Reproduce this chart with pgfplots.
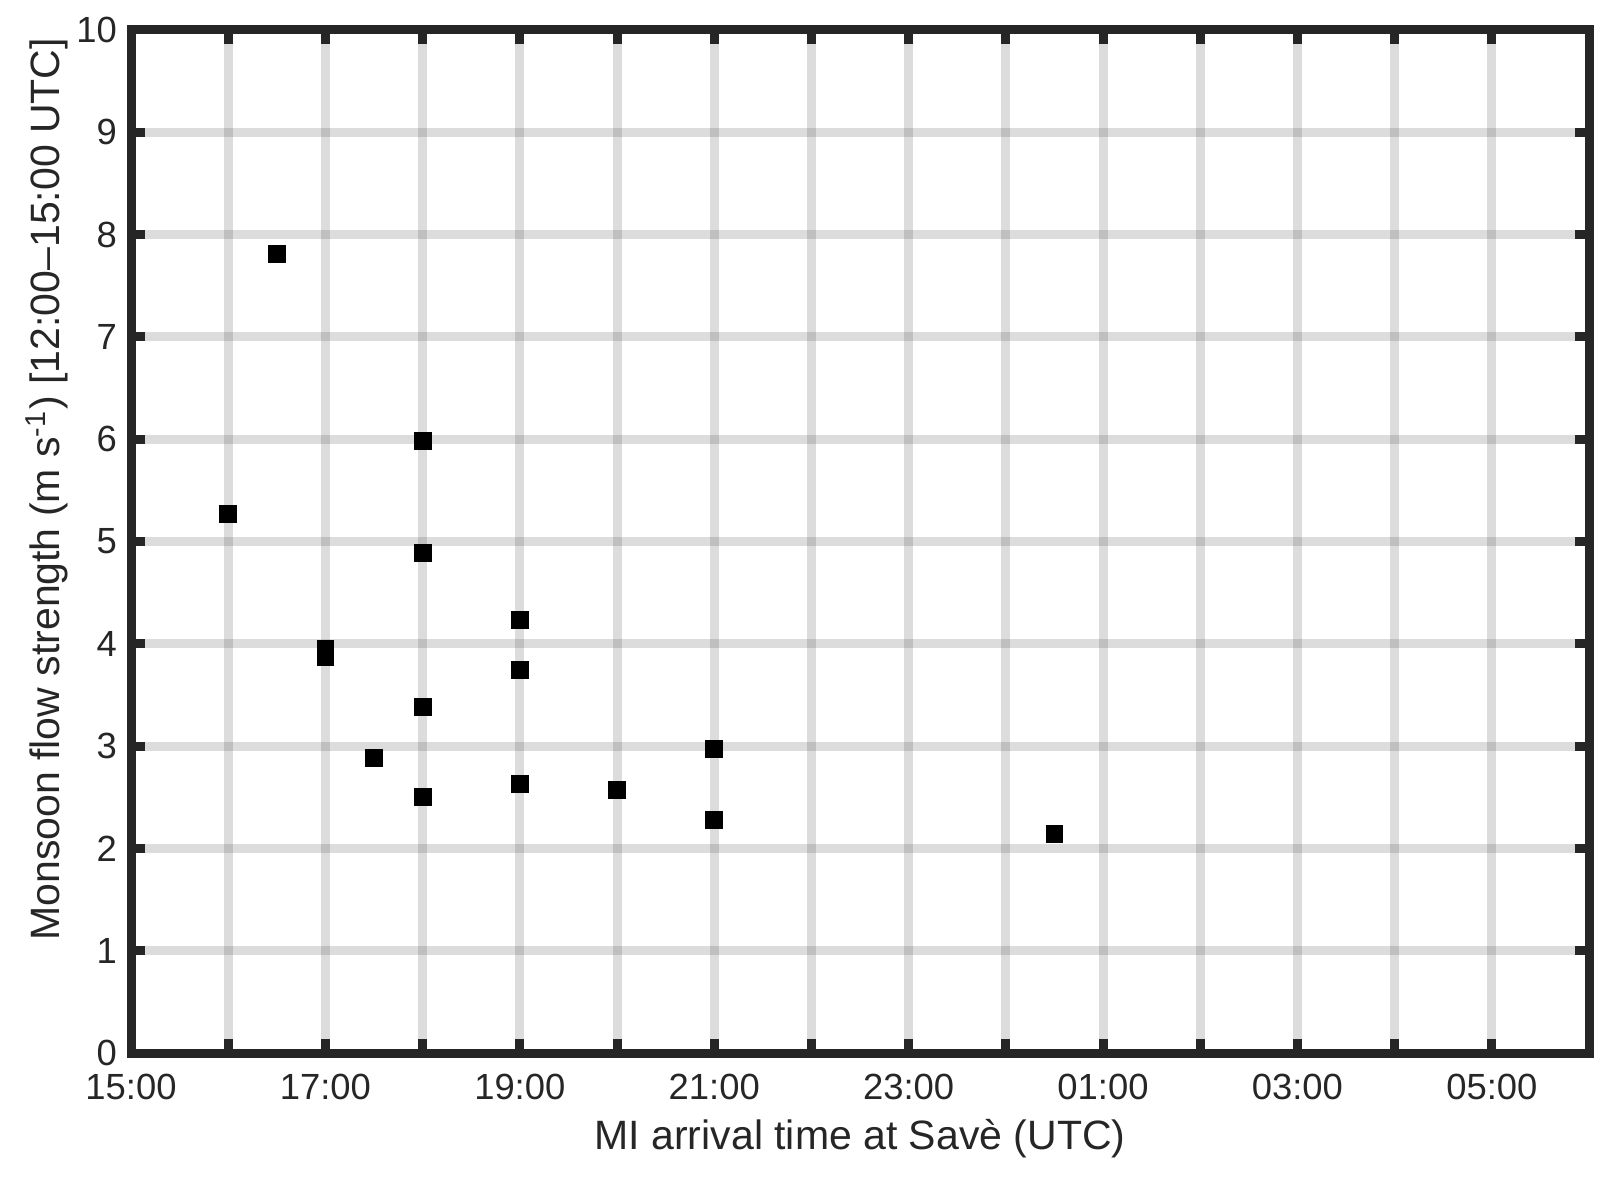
\documentclass[border=0pt]{standalone}
\usepackage{pgfplots}
\pgfplotsset{compat=1.18}
\usepackage{fontspec}
\setmainfont{Liberation Sans}
\definecolor{axdark}{HTML}{262626}
\definecolor{gridgray}{HTML}{DCDCDC}
\begin{document}
\begin{tikzpicture}
\begin{axis}[
  scale only axis,
  width=364.5pt, height=255.75pt,
  xmin=15, xmax=30, ymin=0, ymax=10,
  xtick={15,...,30},
  xticklabels={15:00,,17:00,,19:00,,21:00,,23:00,,01:00,,03:00,,05:00,},
  ytick={0,...,10},
  tick pos=both,
  tick align=inside,
  major tick length=3.6pt,
  tick style={line width=2.25pt, color=axdark},
  axis line style={line width=2.25pt, color=axdark},
  grid=major,
  major grid style={line width=2.25pt, color=black!85, opacity=0.16},
  /pgf/number format/assume math mode=true,
  ticklabel style={font=\fontsize{9.1}{10}\selectfont, text=axdark},
  xticklabel style={yshift=-1.8pt},
  label style={font=\fontsize{10.25}{12}\selectfont, text=axdark},
  xlabel={MI arrival time at Savè (UTC)},
  ylabel={Monsoon flow strength (m s\textsuperscript{-1}) [12:00–15:00 UTC]},
  xlabel style={at={(axis description cs:0.5,-0.0945)}, anchor=base},
  ylabel style={at={(axis description cs:-0.0576,0.551)}, anchor=center},
]
\addplot[only marks, mark=square*, mark size=2.1pt, color=black, mark options={line width=0pt}] coordinates {
  (16,5.27) (16.5,7.81) (17,3.95) (17,3.87) (17.5,2.88)
  (18,5.98) (18,4.89) (18,3.38) (18,2.50)
  (19,4.23) (19,3.74) (19,2.63) (20,2.57)
  (21,2.97) (21,2.28) (24.5,2.14)
};
\end{axis}
\pgfresetboundingbox
\path ([shift={(-32.75pt,-30.75pt)}]current axis.south west) rectangle ([shift={(6.25pt,7.5pt)}]current axis.north east);
\end{tikzpicture}
\end{document}
